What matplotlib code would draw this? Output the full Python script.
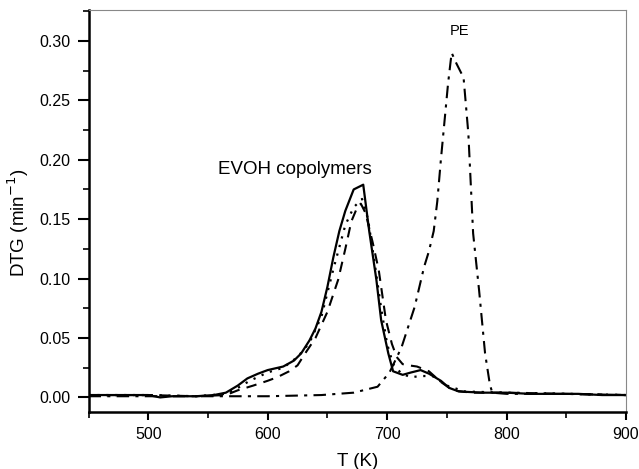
import matplotlib.pyplot as plt
from matplotlib.ticker import MultipleLocator

plt.rcParams['font.family'] = ['Liberation Sans', 'DejaVu Sans']

# EVOH sample 1 (solid)
t1 = [450, 500, 510, 520, 540, 555, 565, 575, 583, 592, 600, 613, 622, 628, 635, 640, 645, 650, 655,
      660, 665, 672, 680, 685, 691, 695, 701, 705, 713, 720, 728, 735, 745, 752, 760, 780, 800, 820,
      840, 860, 880, 900]
d1 = [0.002, 0.002, 0.000, 0.001, 0.001, 0.002, 0.004, 0.010, 0.016, 0.020, 0.023, 0.026, 0.031,
      0.037, 0.048, 0.058, 0.072, 0.093, 0.118, 0.140, 0.157, 0.175, 0.179, 0.140, 0.099, 0.065,
      0.037, 0.022, 0.019, 0.021, 0.023, 0.020, 0.014, 0.008, 0.005, 0.004, 0.004, 0.003, 0.003,
      0.003, 0.002, 0.002]

# EVOH sample 2 (dashed)
t2 = [450, 500, 540, 565, 575, 588, 600, 608, 618, 625, 632, 640, 650, 659, 665, 670, 675, 678, 682,
      688, 693, 699, 704, 708, 713, 718, 725, 735, 745, 755, 770, 800, 850, 900]
d2 = [0.002, 0.002, 0.001, 0.002, 0.006, 0.010, 0.014, 0.017, 0.022, 0.027, 0.038, 0.050, 0.072,
      0.099, 0.125, 0.148, 0.160, 0.163, 0.155, 0.130, 0.107, 0.065, 0.045, 0.034, 0.028, 0.027,
      0.026, 0.022, 0.013, 0.006, 0.004, 0.004, 0.003, 0.002]

# EVOH sample 3 (dotted)
t3 = [450, 500, 540, 565, 575, 585, 600, 613, 625, 635, 645, 655, 665, 672, 679, 684, 690, 695, 700,
      705, 712, 720, 728, 738, 750, 765, 800, 850, 900]
d3 = [0.002, 0.002, 0.001, 0.003, 0.008, 0.014, 0.021, 0.025, 0.034, 0.046, 0.068, 0.108, 0.145,
      0.160, 0.167, 0.150, 0.110, 0.075, 0.045, 0.028, 0.020, 0.017, 0.018, 0.018, 0.010, 0.005,
      0.004, 0.003, 0.002]

# PE (dash-dot)
t_pe = [450, 500, 550, 600, 645, 672, 692, 702, 712, 723, 731, 735, 739, 742, 745, 751, 754, 758,
        764, 768, 772, 777, 782, 786, 788, 800, 850, 900]
d_pe = [0.001, 0.001, 0.001, 0.001, 0.002, 0.004, 0.009, 0.021, 0.042, 0.076, 0.110, 0.123, 0.140,
        0.165, 0.200, 0.264, 0.290, 0.281, 0.269, 0.222, 0.138, 0.090, 0.037, 0.011, 0.004, 0.003,
        0.003, 0.002]

fig = plt.figure(figsize=(6.39, 4.69), dpi=100)
ax = fig.add_axes([0.1385, 0.1222, 0.8412, 0.8565])

ax.plot(t1, d1, color='black', lw=1.6, ls='-')
ax.plot(t2, d2, color='black', lw=1.5, ls=(0, (5, 3.5)))
ax.plot(t3, d3, color='black', lw=1.6, ls=(0, (1, 3)))
ax.plot(t_pe, d_pe, color='black', lw=1.5, ls=(0, (6, 3, 1.5, 3)))

ax.set_xlim(450, 900)
ax.set_ylim(-0.012, 0.326)
ax.xaxis.set_major_locator(MultipleLocator(100))
ax.xaxis.set_minor_locator(MultipleLocator(50))
ax.yaxis.set_major_locator(MultipleLocator(0.05))
ax.yaxis.set_minor_locator(MultipleLocator(0.025))
ax.yaxis.set_major_formatter(plt.FormatStrFormatter('%.2f'))

ax.tick_params(which='major', direction='out', width=1.5, labelsize=11.5)
ax.tick_params(axis='x', which='major', length=6, pad=5)
ax.tick_params(axis='y', which='major', length=8, pad=5)
ax.tick_params(which='minor', direction='out', length=4, width=1.2)
for s in ['left', 'bottom']:
    ax.spines[s].set_linewidth(1.8)
for s in ['top', 'right']:
    ax.spines[s].set_linewidth(0.8)
    ax.spines[s].set_color('#888888')

ax.set_xlabel('T (K)', fontsize=13.5, labelpad=8)
ax.set_ylabel('DTG (min$^{-1}$)', fontsize=13.5)
ax.yaxis.set_label_coords(-0.107, 0.47)

ax.text(558, 0.192, 'EVOH copolymers', fontsize=13.5, va='center')
ax.text(760.6, 0.308, 'PE', fontsize=10.5, ha='center', va='center')

fig.savefig('out.png', dpi=100)
